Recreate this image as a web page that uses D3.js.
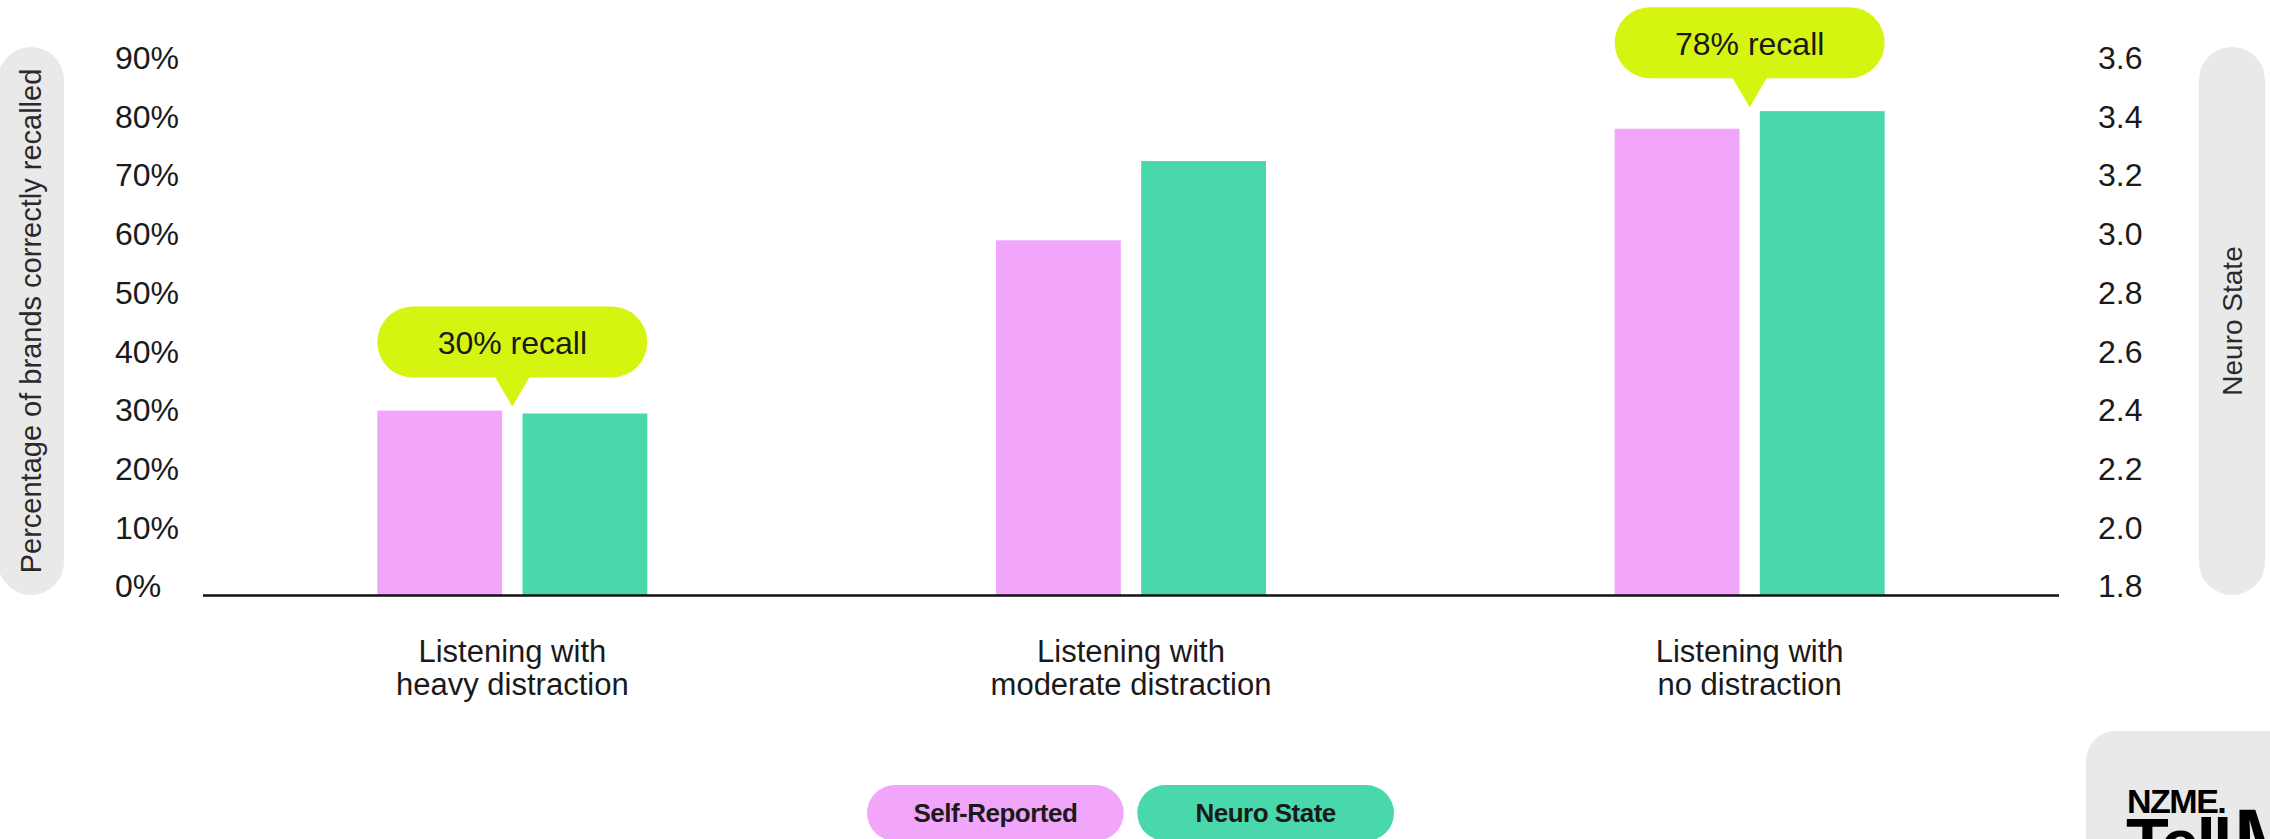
<!DOCTYPE html>
<html>
<head>
<meta charset="utf-8">
<script src="https://cdn.jsdelivr.net/npm/d3@7/dist/d3.min.js"></script>
<style>
  html, body { margin: 0; padding: 0; background: #ffffff; }
  svg { display: block; }
  text { font-family: "Liberation Sans", Arial, sans-serif; fill: #1a1a1a; }
</style>
</head>
<body>
<svg id="chart" width="2270" height="839"></svg>
<script>
// ---- data ----
const categories = [
  "Listening with\nheavy distraction",
  "Listening with\nmoderate distraction",
  "Listening with\nno distraction"
];
const seriesNames = ["Self-Reported", "Neuro State"];
const selfReported = [30, 59, 78];          // % of brands correctly recalled (left axis)
const neuroState = [2.39, 3.25, 3.42];      // neuro state score (right axis)
const calloutCategories = [0, 2];           // groups carrying a recall callout
const leftTicks = [0, 10, 20, 30, 40, 50, 60, 70, 80, 90];
const rightTicks = [1.8, 2.0, 2.2, 2.4, 2.6, 2.8, 3.0, 3.2, 3.4, 3.6];
const leftTitle = "Percentage of brands correctly recalled";
const rightTitle = "Neuro State";

// ---- styling ----
const colors = { "Self-Reported": "#f1a6fb", "Neuro State": "#48d8ac" };
const calloutFill = "#d5f511";
const pillGrey = "#e9e9e9";

const W = 2270, H = 839;
const plotLeft = 203, plotRight = 2059;
const topY = 58.3, zeroY = 586.7, baseY = 595.5;

const svg = d3.select("#chart");

// ---- scales ----
const x0 = d3.scaleBand().domain(categories).range([plotLeft, plotRight]).padding(0);
const groupW = 270;
const x1 = d3.scaleBand().domain(seriesNames).range([0, groupW]).paddingInner(0.14);
const yL = d3.scaleLinear().domain([0, 90]).range([zeroY, topY]);
const yR = d3.scaleLinear().domain([1.8, 3.6]).range([zeroY, topY]);

const rows = categories.map((c, i) => ({
  cat: c,
  vals: [
    { s: "Self-Reported", y: yL(selfReported[i]) },
    { s: "Neuro State", y: yR(neuroState[i]) }
  ]
}));

// ---- side title pills ----
function sidePill(cx, title, size) {
  const g = svg.append("g");
  g.append("rect").attr("x", cx - 33).attr("y", 47).attr("width", 66).attr("height", 548)
    .attr("rx", 33).attr("fill", pillGrey);
  g.append("text").attr("transform", `translate(${cx},${321}) rotate(-90)`)
    .attr("text-anchor", "middle").attr("dominant-baseline", "central")
    .style("font-size", size + "px").style("fill", "#2a2a2a").text(title);
}
sidePill(31, leftTitle, 29);
sidePill(2232, rightTitle, 28);

// ---- axes ----
const axL = svg.append("g").attr("transform", `translate(115,0)`)
  .call(d3.axisLeft(yL).tickValues(leftTicks).tickFormat(d => d + "%").tickSize(0).tickPadding(0));
axL.select(".domain").remove();
axL.selectAll("text").attr("text-anchor", "start").attr("x", 0)
  .style("font-size", "32px").style("fill", "#1a1a1a").style("font-family", "'Liberation Sans', Arial, sans-serif");

const axR = svg.append("g").attr("transform", `translate(2098,0)`)
  .call(d3.axisRight(yR).tickValues(rightTicks).tickFormat(d3.format(".1f")).tickSize(0).tickPadding(0));
axR.select(".domain").remove();
axR.selectAll("text").attr("text-anchor", "start").attr("x", 0)
  .style("font-size", "32px").style("fill", "#1a1a1a").style("font-family", "'Liberation Sans', Arial, sans-serif");

// ---- bars ----
const groups = svg.append("g").selectAll("g").data(rows).join("g")
  .attr("transform", d => `translate(${x0(d.cat) + (x0.bandwidth() - groupW) / 2},0)`);
groups.selectAll("rect").data(d => d.vals).join("rect")
  .attr("x", d => x1(d.s)).attr("width", x1.bandwidth())
  .attr("y", d => d.y).attr("height", d => baseY - d.y)
  .attr("fill", d => colors[d.s]);

// baseline
svg.append("line").attr("x1", plotLeft).attr("x2", plotRight)
  .attr("y1", baseY).attr("y2", baseY).attr("stroke", "#111").attr("stroke-width", 2.5);

// ---- category labels ----
svg.append("g").selectAll("text").data(categories).join("text")
  .attr("x", d => x0(d) + x0.bandwidth() / 2).attr("y", 662)
  .attr("text-anchor", "middle").style("font-size", "31px")
  .each(function(d) {
    d3.select(this).selectAll("tspan").data(d.split("\n")).join("tspan")
      .attr("x", x0(d) + x0.bandwidth() / 2).attr("dy", (t, i) => i === 0 ? 0 : 33).text(t => t);
  });

// ---- recall callouts ----
const bubbleH = 71, tailH = 29, tailW = 34, r = 35.5;
calloutCategories.forEach(i => {
  const row = rows[i];
  const cx = x0(row.cat) + x0.bandwidth() / 2;
  const apexY = d3.min(row.vals, v => v.y) - 4;
  const bottom = apexY - tailH, top = bottom - bubbleH;
  const left = cx - groupW / 2, right = cx + groupW / 2;
  const p = d3.path();
  p.moveTo(left + r, top);
  p.lineTo(right - r, top);
  p.arcTo(right, top, right, top + r, r);
  p.arcTo(right, bottom, right - r, bottom, r);
  p.lineTo(cx + tailW / 2, bottom);
  p.lineTo(cx, apexY);
  p.lineTo(cx - tailW / 2, bottom);
  p.lineTo(left + r, bottom);
  p.arcTo(left, bottom, left, bottom - r, r);
  p.arcTo(left, top, left + r, top, r);
  p.closePath();
  svg.append("path").attr("d", p.toString()).attr("fill", calloutFill);
  svg.append("text").attr("x", cx).attr("y", top + bubbleH / 2 + 1)
    .attr("text-anchor", "middle").attr("dominant-baseline", "central")
    .style("font-size", "32px").text(`${selfReported[i]}% recall`);
});

// ---- legend ----
const legendX = d3.scaleBand().domain(seriesNames).range([867, 1394]).paddingInner(0.05);
const leg = svg.append("g").selectAll("g").data(seriesNames).join("g")
  .attr("transform", d => `translate(${legendX(d)},785)`);
leg.append("rect").attr("width", legendX.bandwidth()).attr("height", 56).attr("rx", 28)
  .attr("fill", d => colors[d]);
leg.append("text").attr("x", legendX.bandwidth() / 2).attr("y", 28)
  .attr("text-anchor", "middle").attr("dominant-baseline", "central")
  .style("font-size", "26px").style("font-weight", "bold").style("letter-spacing", "-0.5px")
  .text(d => d);

// ---- brand mark (runs off the page corner) ----
const logo = svg.append("g");
logo.append("rect").attr("x", 2086).attr("y", 731).attr("width", 240).attr("height", 160)
  .attr("rx", 30).attr("fill", pillGrey);
logo.append("text").attr("x", 2127).attr("y", 813)
  .style("font-size", "34px").style("font-weight", "bold").style("fill", "#000")
  .style("letter-spacing", "-1.5px").text("NZME.");
logo.append("text").attr("x", 2126).attr("y", 868)
  .style("font-size", "70px").style("font-weight", "bold").style("fill", "#000")
  .style("letter-spacing", "-3px").text("Tell");
logo.append("text").attr("x", 2234).attr("y", 866)
  .style("font-size", "82px").style("font-weight", "bold").style("fill", "#000").text("M");
</script>
</body>
</html>
